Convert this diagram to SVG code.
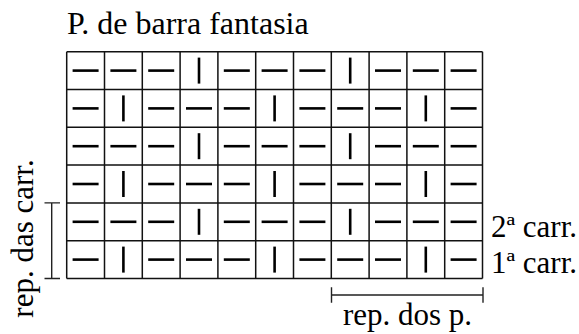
<svg xmlns="http://www.w3.org/2000/svg" xmlns:xlink="http://www.w3.org/1999/xlink" width="579" height="334" viewBox="0 0 579 334">
<style>
.t{font-family:"Liberation Serif","Times New Roman",serif;font-size:31px;fill:#000}
.g{stroke:#111;stroke-width:1.5;fill:none}
.d{stroke:#000;stroke-width:2.6;fill:none}
.b{stroke:#222;stroke-width:1.4;fill:none}
</style>
<defs>
<path id="h" class="d" d="M-13 0H13"/>
<path id="v" class="d" d="M0 -13V13"/>
</defs>
<rect width="579" height="334" fill="#fff"/>
<g id="title"><text class="t" x="67" y="34.3" style="font-size:32px">P. de barra fantasia</text></g>
<g id="grid">
<path class="g" d="M66.7 51.7H482.5M66.7 89.5H482.5M66.7 127.3H482.5M66.7 165.1H482.5M66.7 202.9H482.5M66.7 240.7H482.5M66.7 278.5H482.5M66.7 51.7V278.5M104.5 51.7V278.5M142.3 51.7V278.5M180.1 51.7V278.5M217.9 51.7V278.5M255.7 51.7V278.5M293.5 51.7V278.5M331.3 51.7V278.5M369.1 51.7V278.5M406.9 51.7V278.5M444.7 51.7V278.5M482.5 51.7V278.5"/>
</g>
<g id="row6">
<use xlink:href="#h" x="85.6" y="70.6"/><use xlink:href="#h" x="123.4" y="70.6"/><use xlink:href="#h" x="161.2" y="70.6"/><use xlink:href="#v" x="199" y="70.6"/><use xlink:href="#h" x="236.8" y="70.6"/><use xlink:href="#h" x="274.6" y="70.6"/><use xlink:href="#h" x="312.4" y="70.6"/><use xlink:href="#v" x="350.2" y="70.6"/><use xlink:href="#h" x="388" y="70.6"/><use xlink:href="#h" x="425.8" y="70.6"/><use xlink:href="#h" x="463.6" y="70.6"/>
</g>
<g id="row5">
<use xlink:href="#h" x="85.6" y="108.4"/><use xlink:href="#v" x="123.4" y="108.4"/><use xlink:href="#h" x="161.2" y="108.4"/><use xlink:href="#h" x="199" y="108.4"/><use xlink:href="#h" x="236.8" y="108.4"/><use xlink:href="#v" x="274.6" y="108.4"/><use xlink:href="#h" x="312.4" y="108.4"/><use xlink:href="#h" x="350.2" y="108.4"/><use xlink:href="#h" x="388" y="108.4"/><use xlink:href="#v" x="425.8" y="108.4"/><use xlink:href="#h" x="463.6" y="108.4"/>
</g>
<g id="row4">
<use xlink:href="#h" x="85.6" y="146.2"/><use xlink:href="#h" x="123.4" y="146.2"/><use xlink:href="#h" x="161.2" y="146.2"/><use xlink:href="#v" x="199" y="146.2"/><use xlink:href="#h" x="236.8" y="146.2"/><use xlink:href="#h" x="274.6" y="146.2"/><use xlink:href="#h" x="312.4" y="146.2"/><use xlink:href="#v" x="350.2" y="146.2"/><use xlink:href="#h" x="388" y="146.2"/><use xlink:href="#h" x="425.8" y="146.2"/><use xlink:href="#h" x="463.6" y="146.2"/>
</g>
<g id="row3">
<use xlink:href="#h" x="85.6" y="184"/><use xlink:href="#v" x="123.4" y="184"/><use xlink:href="#h" x="161.2" y="184"/><use xlink:href="#h" x="199" y="184"/><use xlink:href="#h" x="236.8" y="184"/><use xlink:href="#v" x="274.6" y="184"/><use xlink:href="#h" x="312.4" y="184"/><use xlink:href="#h" x="350.2" y="184"/><use xlink:href="#h" x="388" y="184"/><use xlink:href="#v" x="425.8" y="184"/><use xlink:href="#h" x="463.6" y="184"/>
</g>
<g id="row2">
<use xlink:href="#h" x="85.6" y="221.8"/><use xlink:href="#h" x="123.4" y="221.8"/><use xlink:href="#h" x="161.2" y="221.8"/><use xlink:href="#v" x="199" y="221.8"/><use xlink:href="#h" x="236.8" y="221.8"/><use xlink:href="#h" x="274.6" y="221.8"/><use xlink:href="#h" x="312.4" y="221.8"/><use xlink:href="#v" x="350.2" y="221.8"/><use xlink:href="#h" x="388" y="221.8"/><use xlink:href="#h" x="425.8" y="221.8"/><use xlink:href="#h" x="463.6" y="221.8"/>
</g>
<g id="row1">
<use xlink:href="#h" x="85.6" y="259.6"/><use xlink:href="#v" x="123.4" y="259.6"/><use xlink:href="#h" x="161.2" y="259.6"/><use xlink:href="#h" x="199" y="259.6"/><use xlink:href="#h" x="236.8" y="259.6"/><use xlink:href="#v" x="274.6" y="259.6"/><use xlink:href="#h" x="312.4" y="259.6"/><use xlink:href="#h" x="350.2" y="259.6"/><use xlink:href="#h" x="388" y="259.6"/><use xlink:href="#v" x="425.8" y="259.6"/><use xlink:href="#h" x="463.6" y="259.6"/>
</g>
<g id="labels-rows">
<text class="t" x="491" y="237">2ª carr.</text>
<text class="t" x="491" y="272.7">1ª carr.</text>
</g>
<g id="connectors">
<path class="b" d="M51.7 202.9V278.5M44.5 202.9H60M44.5 278.5H60"/>
<path class="b" d="M331.5 295H483M331.5 287.3V302.7M483 287.3V302.7"/>
</g>
<g id="rep-carr"><text class="t" text-anchor="middle" transform="translate(33 238.5) rotate(-90)">rep. das carr.</text></g>
<g id="rep-p"><text class="t" text-anchor="middle" x="407.5" y="325">rep. dos p.</text></g>
</svg>
